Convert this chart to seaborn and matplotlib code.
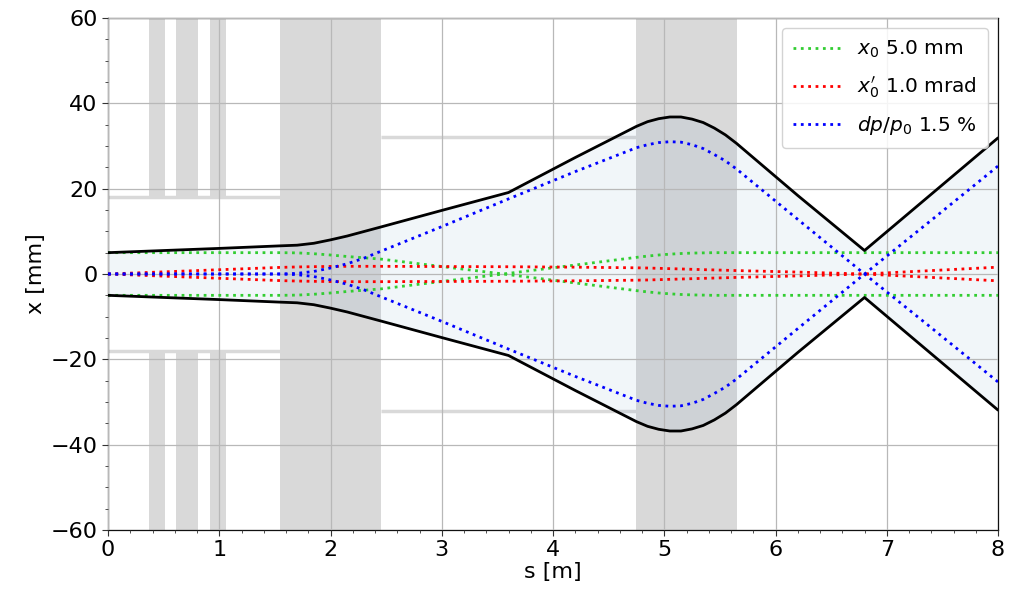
import numpy as np
import pandas as pd
import matplotlib
matplotlib.use("Agg")
import matplotlib.pyplot as plt
from matplotlib.ticker import MultipleLocator
from matplotlib.patches import Rectangle
import seaborn as sns

# ---------------- data ----------------
s = [0.0, 0.5, 1.0, 1.55, 1.7, 1.85, 2.0, 2.15, 2.3, 2.45, 3.0, 3.6, 4.2,
     4.75, 4.85, 4.95, 5.05, 5.15, 5.25, 5.35, 5.45, 5.55, 5.65, 6.2, 6.8, 7.4, 8.0]

ray_x0 = [5.0, 5.0, 5.0, 5.0, 4.95, 4.75, 4.45, 4.1, 3.8, 3.5, 1.75, -0.15, -2.1,
          -3.9, -4.2, -4.45, -4.65, -4.8, -4.9, -4.95, -5.0, -5.0, -5.0, -5.0, -5.0, -5.0, -5.0]

ray_xp = [0.0, 0.5, 1.0, 1.55, 1.65, 1.72, 1.77, 1.8, 1.8, 1.8, 1.75, 1.7, 1.6,
          1.45, 1.4, 1.33, 1.25, 1.18, 1.1, 1.02, 0.95, 0.88, 0.8, 0.45, 0.0, -0.8, -1.6]

ray_dp = [0.0, 0.0, 0.0, 0.0, 0.15, 0.6, 1.4, 2.4, 3.7, 5.3, 11.1, 17.6, 24.0,
          29.6, 30.3, 30.8, 31.0, 30.9, 30.3, 29.4, 28.0, 26.5, 24.6, 12.8, 0.0, -12.6, -25.3]

envelope = [5.0, 5.5, 6.0, 6.6, 6.75, 7.2, 8.0, 8.9, 9.95, 11.0, 14.9, 19.1, 27.3,
            34.6, 35.7, 36.4, 36.8, 36.8, 36.3, 35.5, 34.2, 32.6, 30.6, 18.4, 5.5, 18.7, 31.9]

ray_labels = ["$x_0$ 5.0 mm", "$x^{\\prime}_0$ 1.0 mrad", "$dp/p_0$ 1.5 %"]

# beamline elements
thin_start = [0.37, 0.61, 0.92]
thin_end = [0.51, 0.81, 1.06]
thin_aperture = 18
big_start = [1.55, 4.75]
big_end = [2.45, 5.65]
pipe_start = [0.0, 2.45]
pipe_end = [1.55, 4.75]
pipe_aperture = [18, 32]

# ---------------- styling ----------------
sns.set_style("ticks")
plt.rcParams["font.family"] = ["DejaVu Sans"]
plt.rcParams["mathtext.fontset"] = "dejavusans"
plt.rcParams["text.color"] = "black"
plt.rcParams["axes.labelcolor"] = "black"
plt.rcParams["xtick.color"] = "black"
plt.rcParams["ytick.color"] = "black"

ray_colors = ["limegreen", "red", "blue"]
elem_color = "#d9d9d9"

fig = plt.figure(figsize=(10.16, 5.90), dpi=100)
ax = fig.add_axes([0.1063, 0.1017, 0.8760, 0.8678])

YMAX = 60

# elements
for a, b in zip(thin_start, thin_end):
    ax.add_patch(Rectangle((a, thin_aperture), b - a, YMAX - thin_aperture,
                           facecolor=elem_color, edgecolor="none", zorder=0.5))
    ax.add_patch(Rectangle((a, -YMAX), b - a, YMAX - thin_aperture,
                           facecolor=elem_color, edgecolor="none", zorder=0.5))
for a, b in zip(big_start, big_end):
    ax.axvspan(a, b, facecolor=elem_color, edgecolor="none", zorder=0.5)
for a, b, ap in zip(pipe_start, pipe_end, pipe_aperture):
    ax.hlines([ap, -ap], a, b, colors=elem_color, lw=2.5, zorder=0.6)

# envelope fill
env = np.array(envelope)
ax.fill_between(s, -env, env, color="steelblue", alpha=0.07, lw=0, zorder=1.6)

# rays (both signs)
handles = []
for vals, col, lab in zip([ray_x0, ray_xp, ray_dp], ray_colors, ray_labels):
    v = np.array(vals)
    df = pd.DataFrame({"s": s, "x": v})
    sns.lineplot(data=df, x="s", y="x", ax=ax, color=col, linestyle=":", lw=2.0,
                 sort=False, estimator=None, zorder=3)
    df2 = pd.DataFrame({"s": s, "x": -v})
    sns.lineplot(data=df2, x="s", y="x", ax=ax, color=col, linestyle=":", lw=2.0,
                 sort=False, estimator=None, zorder=3)
    handles.append(plt.Line2D([], [], color=col, linestyle=":", lw=2.0, label=lab))

# envelope lines
dfe = pd.DataFrame({"s": s, "x": env})
sns.lineplot(data=dfe, x="s", y="x", ax=ax, color="black", lw=2.0, sort=False,
             estimator=None, zorder=4)
dfe2 = pd.DataFrame({"s": s, "x": -env})
sns.lineplot(data=dfe2, x="s", y="x", ax=ax, color="black", lw=2.0, sort=False,
             estimator=None, zorder=4)

ax.set_xlim(0, 8)
ax.set_ylim(-60, 60)
ax.xaxis.set_major_locator(MultipleLocator(1))
ax.xaxis.set_minor_locator(MultipleLocator(0.2))
ax.yaxis.set_major_locator(MultipleLocator(20))
ax.yaxis.set_minor_locator(MultipleLocator(5))
ax.grid(True, which="major", color="#b8b8b8", lw=0.9, zorder=1.5)
ax.set_axisbelow(False)
ax.tick_params(axis="both", which="major", labelsize=16, length=4, color="#333333")
ax.tick_params(axis="both", which="minor", length=2.5, color="#333333")
for sp in ax.spines.values():
    sp.set_visible(True)
    sp.set_color("#111111")
    sp.set_linewidth(0.9)
ax.set_xlabel("s [m]", fontsize=16, labelpad=1)
ax.set_ylabel("x [mm]", fontsize=16, labelpad=3)

leg = ax.legend(handles=handles, loc="upper right", fontsize=14.5, handlelength=2.4,
                framealpha=0.85, borderpad=0.55, labelspacing=0.7)
leg.set_zorder(10)

fig.savefig("out.png", dpi=100)
